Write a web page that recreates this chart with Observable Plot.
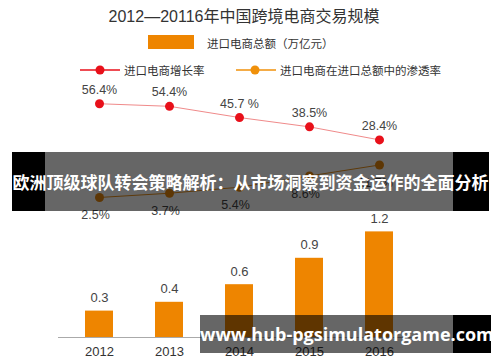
<!DOCTYPE html>
<html>
<head>
<meta charset="utf-8">
<script src="https://cdn.jsdelivr.net/npm/d3@7"></script>
<script src="https://cdn.jsdelivr.net/npm/@observablehq/plot@0.6"></script>
<style>
  html, body { margin: 0; padding: 0; background: #fff; }
  #page { position: relative; width: 500px; height: 362px; overflow: hidden;
          font-family: "Liberation Sans", "Noto Sans CJK SC", sans-serif; }
  #head { position: relative; width: 500px; height: 80px; }
  .abs { position: absolute; }
  #title { left: 0; width: 488px; top: 6px; text-align: center; font-size: 16px; color: #333; line-height: 22px; }
  .leg { font-size: 11.5px; color: #333; line-height: 14px; font-family: "Noto Sans CJK SC", sans-serif; }
  #chart { position: absolute; left: 0; top: 80px; }
  .band { position: absolute; }
  .btxt { position: absolute; color: #fff; font-weight: bold; text-align: center; white-space: nowrap; }
</style>
</head>
<body>
<div id="page">
  <div id="head">
    <div id="title" class="abs">2012—20116年中国跨境电商交易规模</div>
    <div class="abs" style="left:148px;top:35px;width:46px;height:14px;background:#EE8500;"></div>
    <div id="leg1" class="abs leg" style="left:207px;top:36px;"></div>
    <svg class="abs" style="left:78px;top:63px;" width="44" height="14">
      <line x1="2" y1="7" x2="42" y2="7" stroke="#E8101A" stroke-width="1.5"/>
      <circle cx="22" cy="7" r="4.5" fill="#E8101A"/>
    </svg>
    <div id="leg2" class="abs leg" style="left:124px;top:63px;"></div>
    <svg class="abs" style="left:234px;top:63px;" width="44" height="14">
      <line x1="2" y1="7" x2="42" y2="7" stroke="#F0900A" stroke-width="1.5"/>
      <circle cx="21" cy="7" r="4.5" fill="#F0900A"/>
    </svg>
    <div id="leg3" class="abs leg" style="left:280px;top:63px;"></div>
  </div>
  <div id="chart"></div>

  <div class="band" style="left:12px;top:152px;width:33px;height:59px;background:#000;"></div>
  <div class="band" style="left:45px;top:152px;width:408px;height:59px;background:rgba(0,0,0,0.6);"></div>
  <div class="band" style="left:453px;top:152px;width:36px;height:59px;background:#000;"></div>
  <div class="btxt" id="banner" style="left:12px;top:152px;width:477px;height:59px;line-height:59px;font-size:17px;font-family:'Noto Sans CJK SC',sans-serif;"></div>

  <div class="band" style="left:200px;top:315px;width:253px;height:38px;background:rgba(0,0,0,0.6);"></div>
  <div class="band" style="left:453px;top:315px;width:38px;height:38px;background:#000;"></div>
  <div class="btxt" id="wm" style="left:200px;top:315px;width:291px;height:38px;line-height:38px;font-size:18px;font-family:'Open Sans',sans-serif;"></div>
</div>
<script>
// ---- data ----
const years = ["2012", "2013", "2014", "2015", "2016"];
const importTotal = [0.3, 0.4, 0.6, 0.9, 1.2];            // 进口电商总额（万亿元）
const growthRate = [56.4, 54.4, 45.7, 38.5, 28.4];         // 进口电商增长率 %
const growthLabels = ["56.4%", "54.4%", "45.7 %", "38.5%", "28.4%"];
const penetration = [2.5, 3.7, 5.4, 8.6, 11.7];            // 渗透率 %
const penetrationLabels = ["2.5%", "3.7%", "5.4%", "8.6%", "11.7%"];

const titleText = "2012—20116年中国跨境电商交易规模";
const seriesNames = ["进口电商总额（万亿元）", "进口电商增长率", "进口电商在进口总额中的渗透率"];
const bannerText = "欧洲顶级球队转会策略解析：从市场洞察到资金运作的全面分析";
const watermarkText = "www.hub-pgsimulatorgame.com";

document.getElementById("title").textContent = titleText;
document.getElementById("leg1").textContent = seriesNames[0];
document.getElementById("leg2").textContent = seriesNames[1];
document.getElementById("leg3").textContent = seriesNames[2];
document.getElementById("banner").textContent = bannerText;
document.getElementById("wm").textContent = watermarkText;

// secondary scales: map percentages onto the bar axis units (dual-axis layout)
const growthToY = d3.scaleLinear().domain([28.4, 56.4]).range([2.245, 2.656]);
const penToY = d3.scaleLinear().domain([2.5, 11.7]).range([1.591, 1.960]);

const bars = years.map((y, i) => ({year: y, value: importTotal[i]}));
const growth = years.map((y, i) => ({year: y, v: growthToY(growthRate[i]), label: growthLabels[i]}));
const pen = years.map((y, i) => ({year: y, v: penToY(penetration[i]), label: penetrationLabels[i]}));

const font = "Liberation Sans, Arial, sans-serif";

const chart = Plot.plot({
  width: 500,
  height: 282,
  marginLeft: 58,
  marginRight: 80,
  marginTop: 0,
  marginBottom: 25,
  style: {fontFamily: font, background: "transparent", overflow: "visible"},
  x: {type: "band", domain: years, paddingInner: 0.6, paddingOuter: 0.35, axis: null, label: null},
  y: {domain: [0, 2.92], axis: null},
  marks: [
    Plot.barY(bars, {x: "year", y: "value", fill: "#EE8500"}),
    Plot.ruleY([0], {stroke: "#aaa", strokeWidth: 1}),
    Plot.axisX({tickSize: 0, tickPadding: 9, fontSize: 13, color: "#333", label: null}),
    Plot.text(bars, {x: "year", y: "value", text: d => String(d.value), dy: -13, fontSize: 13, fill: "#444"}),
    Plot.line(growth, {x: "year", y: "v", stroke: "#F08A8A", strokeWidth: 1}),
    Plot.dot(growth, {x: "year", y: "v", r: 4.5, fill: "#E8101A"}),
    Plot.text(growth, {x: "year", y: "v", text: "label", dy: -14, fontSize: 12.5, fill: "#444"}),
    Plot.line(pen, {x: "year", y: "v", stroke: "#E8901A", strokeWidth: 1}),
    Plot.dot(pen, {x: "year", y: "v", r: 4.5, fill: "#E8880C"}),
    Plot.text(pen, {x: "year", y: "v", text: "label", dy: 18, dx: -4, fontSize: 12.5, fill: "#444"})
  ]
});
document.getElementById("chart").appendChild(chart);
</script>
</body>
</html>
